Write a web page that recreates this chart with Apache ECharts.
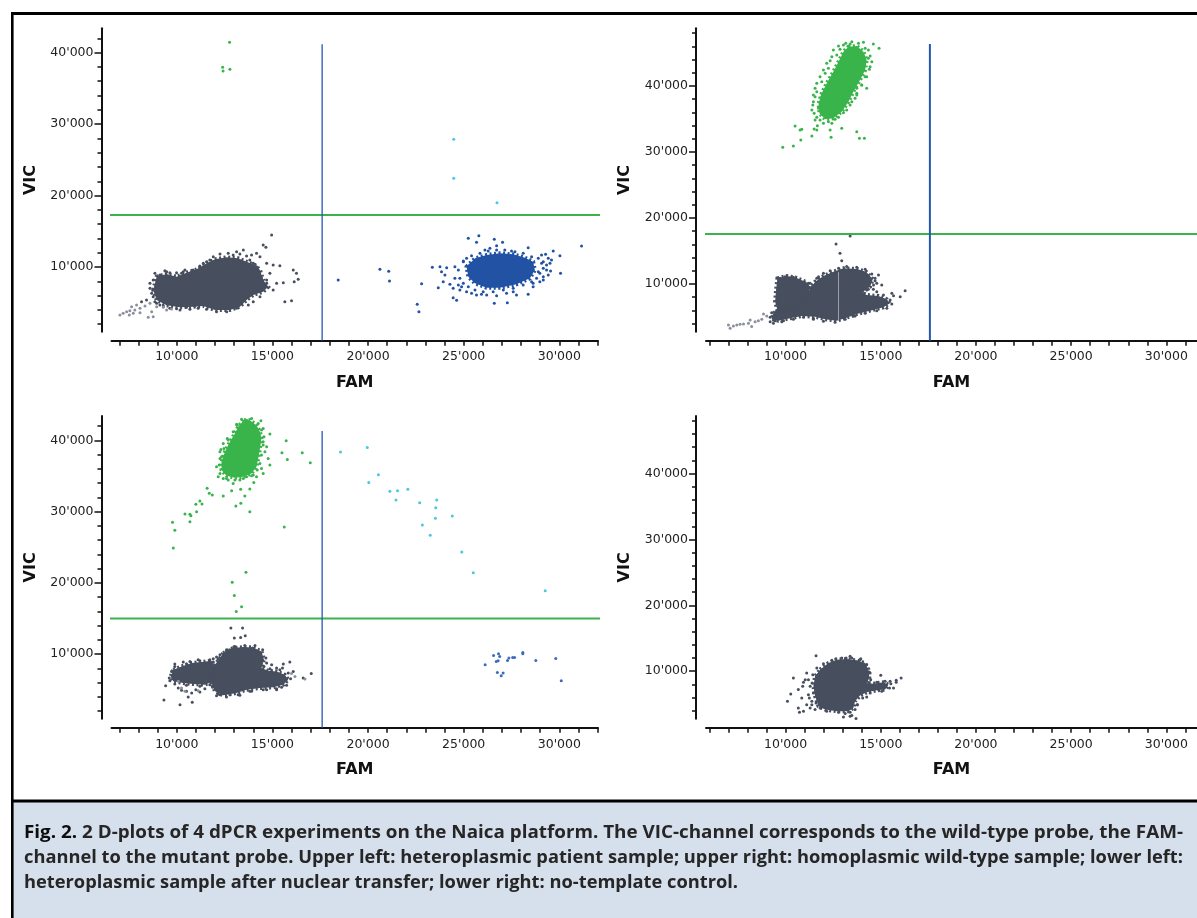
<!DOCTYPE html>
<html>
<head>
<meta charset="utf-8">
<script src="https://cdn.jsdelivr.net/npm/echarts@6/dist/echarts.min.js"></script>
<style>
  html, body { margin: 0; padding: 0; background: #fff; }
  #chart { width: 1197px; height: 918px; }
</style>
</head>
<body>
<div id="chart"></div>
<script>
// ---- data (FAM, VIC) ----

// upper left: heteroplasmic patient sample
var p1DarkCore = [[8770,6780],[8950,8640],[9470,9020],[9990,8640],[10510,9200],[11040,9670],[11560,10510],[12000,11070],[12610,11350],[13210,11210],[13650,10740],[14090,10280],[14350,9580],[14520,8180],[14780,7240],[14520,6540],[14000,6080],[13650,5380],[13300,4440],[12780,3980],[12000,3980],[11390,4540],[10860,4440],[10170,4350],[9470,4630],[8950,5380]];
var p1Dark = [[14960,14480],[14520,13080],[14660,12750],[14170,11910],[13910,11680],[13480,12380],[13130,12140],[13650,11540],[14350,11440],[14700,10510],[15040,10280],[15390,10180],[14870,9110],[15220,7710],[15570,7800],[14700,7710],[15040,6780],[14350,5840],[16090,9580],[16260,9110],[16350,8270],[16140,7940],[15650,5140],[16000,5280],[14000,5140],[13740,4680],[10860,9580],[10340,9340],[9990,9200],[9470,9340],[9120,8880],[11210,10140],[11560,10740],[8600,7710],[8690,6310],[8860,5140],[9120,4680],[9640,4210],[10170,3980],[10690,4070],[8160,5140],[8420,5380]];
var p1DarkHalo = [[11910,11440],[12260,11820],[12690,11910],[12950,11680],[13300,11820],[11730,10980],[11390,10510],[11210,9950],[13820,10980],[14000,10510],[14170,10040],[13910,9580],[14260,8880],[14430,8410],[14700,8180],[14170,7240],[14350,6780],[14090,6540],[13820,6080],[13560,5610],[13390,4910],[13130,4210],[12610,3740],[12080,3740],[11560,4070],[11120,4210],[10950,4540],[10510,4350],[9990,4160],[9300,4540],[8950,4910],[8770,5840],[8600,7010],[8770,8180],[9030,8640],[9640,9200],[10250,9110],[10780,9340],[8860,9110],[9380,9480],[10430,9580]];
var p1Tail = [[7030,3280],[7200,3510],[7380,3740],[7550,3880],[7640,4440],[7810,3980],[7900,4680],[8080,4210],[8340,4540],[8600,4910],[8690,3740],[8770,3040],[8510,2950],[8950,4440],[9300,4350],[9470,3980],[9730,4120],[8080,3600],[7730,3510],[7520,3280]];
var p1Green = [[12760,41450],[12400,37950],[12420,37440],[12780,37670]];
var p1Cyan = [[24480,27870],[24480,22410],[26740,19000]];
var p1BlueCore = [[25150,10040],[25590,11210],[26200,11680],[26890,11910],[27590,11770],[28200,11300],[28630,10740],[28720,9580],[28460,8410],[27760,7570],[26890,7100],[26200,7100],[25590,7710],[25240,8640]];
var p1Blue = [[18440,8180],[20620,9670],[21080,9390],[21120,8040],[25240,14010],[25790,14380],[25670,13450],[26600,13870],[27030,13450],[26720,12980],[26370,12610],[26110,12380],[27500,12240],[28370,12700],[29070,11680],[29280,11770],[29680,12240],[30030,11580],[29420,11210],[29590,10980],[29160,10740],[28900,9340],[29330,9580],[29540,9440],[28980,7940],[28630,7710],[28370,6170],[27760,6080],[27590,6540],[27240,6310],[26720,5980],[26600,4910],[27280,5000],[26200,6080],[25930,6170],[25670,6080],[25410,6310],[25150,6540],[24800,6780],[24720,7480],[24540,8410],[24450,7010],[24280,7570],[24020,8880],[23930,7940],[23840,9340],[24110,9900],[23760,10040],[23360,9950],[22800,7660],[23670,7100],[24450,5700],[24630,5330],[22570,4770],[22660,3740],[31160,12940],[30060,9110],[25320,10280],[24980,10840],[29160,8640]];
var p1BlueHalo = [[24980,10740],[25150,11210],[25410,11580],[25850,11910],[26280,12240],[26720,12380],[27150,12380],[27680,12140],[28110,11910],[28550,11440],[28900,11210],[29070,10510],[29160,9810],[28980,9110],[28810,8410],[28550,7940],[28110,7480],[27590,7010],[27070,6780],[26540,6540],[26020,6540],[25590,6780],[25240,7240],[24980,7710],[24800,8410],[24720,9580],[24540,10040],[24890,7240],[28630,7240],[29160,8180],[29330,10280],[29510,10510],[29420,8880]];

// upper right: homoplasmic wild-type sample
var p2GreenCore = [[13300,45960],[13740,46060],[14090,45200],[14260,43940],[14180,42420],[13910,40910],[13560,39140],[13300,37620],[12950,36110],[12510,35100],[12080,34950],[11780,35860],[11730,37370],[11900,38890],[12160,40400],[12510,42170],[12780,43680],[13040,45200]];
var p2Green = [[12780,46060],[13160,46460],[13390,46360],[14090,46610],[14610,46360],[14910,45700],[14350,45450],[14440,44540],[14530,43680],[14400,42520],[14180,41410],[14000,40150],[13740,39640],[13650,38130],[13740,38630],[13390,37120],[13040,35960],[12340,43830],[12250,42670],[12080,41920],[11900,40650],[11640,39140],[11550,38380],[11460,37620],[11380,36360],[11550,34850],[11810,34850],[12430,34340],[12600,34950],[11670,33990],[11500,33480],[10850,33430],[10760,33330],[10500,33940],[11640,33330],[12340,33330],[12390,32220],[12950,33580],[13740,33080],[13880,32070],[14140,32070],[9850,30700],[10410,30910],[10800,31820],[11380,32420],[12250,39390],[14260,39640]];
var p2GreenHalo = [[12510,45450],[12430,44440],[12160,43430],[11990,42420],[11810,41410],[11640,40400],[11550,39640],[11460,38630],[11430,37120],[11500,35860],[11640,35250],[11990,34340],[12250,34590],[12780,35250],[13210,36360],[13480,37620],[13740,38890],[14000,40150],[14260,41410],[14440,42930],[14350,44190],[14180,45700],[13830,46460],[13480,46710],[13040,46210],[12860,45550],[12690,44690],[11900,38380],[11730,36610],[13910,42420],[13740,44440]];
var p2DarkCore = [[9360,5560],[9710,6160],[10240,6460],[10760,7320],[11200,8840],[11550,10350],[11990,11210],[12510,11870],[13040,12370],[13740,12270],[14230,11870],[14580,10710],[14440,9600],[14000,8690],[14260,8330],[14880,8180],[15320,7680],[15460,7070],[15140,6460],[14440,5960],[13740,5450],[13210,4900],[12690,4440],[12080,4650],[11550,5050],[10850,5150],[10240,4800],[9620,4440],[9270,4650]];
var p2DarkLobe = [[9570,10860],[10060,11210],[10500,11010],[11030,10350],[11290,9600],[11200,8080],[10940,7320],[10590,6460],[10060,6060],[9570,6060],[9450,7320],[9500,9090]];
var p2Dark = [[9710,10860],[9970,11110],[10240,10860],[10410,11010],[11030,10200],[9620,9340],[9620,7580],[9570,6820],[11030,9600],[11200,10100],[11640,10860],[11550,9850],[12650,16060],[12860,14650],[12950,13530],[13390,17270],[14880,11360],[14790,10100],[15050,9850],[15580,8590],[15670,8230],[16020,8080],[16280,8990],[14260,9090],[14610,9190],[14700,10500],[11460,4800],[13560,5150],[9360,5150],[9190,4290],[9360,4040],[9800,4290]];
var p2DarkHalo = [[11990,11620],[12340,12020],[12780,12370],[13210,12630],[13740,12520],[14180,12220],[14530,11510],[14700,10860],[14620,9850],[14350,9190],[14790,8840],[15140,8330],[15490,7580],[15580,6970],[15320,6310],[14790,5960],[14180,5560],[13650,5150],[13130,4650],[12600,4190],[11990,4340],[11460,4650],[10940,4950],[10410,4650],[9890,4440],[9450,4440],[9190,4950],[9270,5660],[11730,11110],[11290,10100],[10850,8590],[10680,7830],[10240,6820],[9800,6310],[9500,5810]];
var p2Tail = [[5770,3130],[7000,3790],[7090,3280],[7260,3640],[7440,3790],[7610,3890],[7790,3940],[8050,4040],[8140,4550],[8220,3540],[8400,4290],[8570,4440],[8750,4650],[8840,5450],[9010,5150]];
var p2Streak = [[12780,11800],[12780,4550]];

// lower left: heteroplasmic sample after nuclear transfer
var p3GreenCore = [[13510,42830],[13820,42830],[14170,42130],[14350,41190],[14430,40260],[14350,38860],[14260,37460],[14170,36290],[13910,35360],[13480,34890],[13040,34750],[12600,35030],[12340,35830],[12340,36990],[12520,38390],[12780,39790],[13040,40960],[13210,41890]];
var p3Green = [[13130,42270],[13650,42830],[14400,42730],[14000,41890],[14520,41660],[14870,40870],[14520,39790],[14700,39090],[14610,38390],[14780,37460],[14870,36530],[14430,36060],[14520,35360],[14000,35130],[13650,34890],[13300,34430],[12950,33960],[12690,34430],[12430,34660],[12170,34890],[12080,36290],[12260,37460],[12310,38720],[12430,39560],[12640,40260],[12690,38860],[14030,34100],[13820,33170],[13560,32190],[13340,33120],[12870,32930],[12430,32190],[13090,30790],[13350,31160],[13820,29990],[11590,33260],[11700,32560],[11860,32330],[11210,31490],[11000,31020],[11320,31070],[11040,29990],[10690,29620],[10740,29430],[10430,29670],[10690,28590],[9780,28500],[9900,27380],[9820,24910],[15620,27850],[15500,38250],[15780,37320],[15720,39930],[16560,38250],[16980,36850],[13620,21500],[12900,20100],[13010,18230],[13390,16650],[13110,15990]];
var p3GreenHalo = [[13390,42970],[13910,43060],[14260,42360],[14430,41430],[14560,40490],[14520,39330],[14430,37930],[14350,36760],[14210,35830],[13910,35030],[13480,34660],[13040,34430],[12600,34660],[12260,35360],[12220,36530],[12340,37690],[12470,38860],[12690,40030],[12950,41190],[13160,42130],[12260,38390],[12520,35590],[14170,34890]];
var p3Cyan = [[18560,38350],[19960,39000],[20040,34100],[20540,35170],[21140,32840],[21540,32930],[21460,31630],[22080,33120],[22700,31250],[23590,31630],[23540,30550],[23520,29060],[22840,28130],[23250,26680],[24400,29390],[24900,24350],[25500,21410],[29260,18890]];
var p3Blue = [[26120,8530],[26560,9830],[26820,10070],[26880,9690],[26700,8990],[26800,9090],[26760,7450],[26960,6990],[27060,7360],[27290,9130],[27360,9460],[27560,9550],[27660,9550],[28090,10250],[28090,10070],[28770,9130],[29810,9410],[30100,6290]];
var p3DarkCore = [[12430,10160],[12950,10860],[13480,11000],[14000,10950],[14430,10390],[14560,9220],[14430,8060],[14780,7680],[15220,7590],[15650,7120],[15830,6420],[15570,5720],[15040,5350],[14350,5260],[13650,5020],[13130,4560],[12430,4230],[12000,4790],[11820,5960],[11730,7360],[12000,8520],[12260,9460]];
var p3DarkLobe = [[9820,7820],[10250,8290],[10780,8760],[11300,8900],[11820,9080],[12000,8060],[11910,6190],[11470,5720],[10860,5820],[10340,5960],[9820,6190],[9680,6890]];
var p3Dark = [[12830,13660],[13440,13660],[13010,12260],[13340,12350],[13580,12580],[12990,11040],[13960,10860],[9900,8620],[10340,8900],[10690,8990],[11120,9220],[11730,9220],[12170,9360],[11390,8620],[9640,6280],[9420,5580],[10080,5260],[10250,4930],[10510,4790],[10780,4560],[11000,5020],[11210,4700],[11470,5160],[9330,3580],[10170,2920],[10600,4000],[10810,3250],[15570,8620],[15910,8900],[15530,8060],[15220,8060],[14960,7590],[16090,7590],[16610,6660],[17030,7310],[15480,5350],[15220,5020],[14700,5020],[13910,4790],[13300,4230],[12780,4320],[12260,4320],[12080,4180],[14960,8520],[14700,8760],[12260,9920],[12600,10390],[12780,10620]];
var p3DarkHalo = [[12600,10620],[13040,11090],[13560,11230],[14090,11230],[14490,10620],[14660,9460],[14560,8290],[14870,7960],[15390,7820],[15830,7360],[15950,6560],[15740,5630],[15220,5160],[14520,5020],[13820,4790],[13210,4320],[12600,4000],[12170,4420],[11870,5350],[11700,6660],[11650,7820],[11910,8900],[12080,9600],[9900,8290],[10510,8620],[11210,9080],[11910,9360],[9730,7590],[9610,6660],[9900,5820],[10510,5630],[11210,5490],[11730,5720]];
var p3Light = [[10080,6190],[10250,5260],[10430,4790],[11120,4880],[16000,7310],[16180,6890],[16700,6520]];

// lower right: no-template control
var p4DarkCore = [[11810,10230],[12250,11240],[12690,11740],[13210,11840],[13740,11640],[14180,11240],[14350,10230],[14400,8960],[14260,8210],[14610,8110],[15140,8310],[15400,7950],[15230,7200],[14790,7100],[14260,6790],[13910,6290],[13650,5430],[13560,4420],[13300,3910],[12690,3910],[12080,4170],[11730,4670],[11550,6190],[11460,7700],[11550,9220]];
var p4Dark = [[11600,12350],[12640,11890],[13180,11990],[13390,12250],[13950,11890],[14140,10980],[14390,9870],[13830,11340],[15000,9370],[15490,8460],[15810,8610],[16070,8960],[15810,8310],[15670,7450],[14960,7800],[14880,7200],[14530,7600],[14260,6090],[13770,4920],[13700,2800],[13390,3160],[13130,3560],[13040,3060],[13480,3260],[11110,9720],[11030,8710],[10410,8960],[10270,6540],[10100,5430],[10670,7200],[10850,5930],[10670,4420],[10940,3910],[10730,3760],[11290,4420],[11110,4920],[11380,5430],[11200,6440],[10900,7700],[10940,8310]];
var p4DarkHalo = [[11640,10480],[11990,11140],[12430,11640],[12950,11990],[13480,11990],[13910,11740],[14260,10980],[14440,9720],[14470,8710],[14790,8310],[15230,8460],[15530,8110],[15460,7450],[15050,6940],[14440,6690],[14050,5930],[13770,4920],[13650,4170],[13390,3760],[12780,3760],[12160,3910],[11810,4420],[11600,5180],[11460,6690],[11390,8210],[11430,9470],[11290,7700],[11250,5930],[11200,8710],[11380,4920],[11550,4170]];

// cluster thresholds per panel (FAM cut, top of FAM line, VIC cut); lower right has none
var famCut = [17600, 17580, 17600];
var famTop = [41190, 46360, 41290];
var vicCut = [17270, 17580, 15000];

// axis extents and tick labels
var xRange = [[6590, 32020], [5820, 31610], [6590, 32020], [5820, 31610]];
var yRange = [[940, 43410], [2770, 48740], [940, 43410], [2770, 48740]];
var xLabels = [10000, 15000, 20000, 25000, 30000];
var yLabels = [10000, 20000, 30000, 40000];

// ---- layout ----
var boxes = [
  {left: 111.5, top: 28.3, width: 486.5, height: 303.4},
  {left: 706, top: 28.3, width: 491, height: 303.4},
  {left: 111.5, top: 416, width: 486.5, height: 302.8},
  {left: 706, top: 416, width: 491, height: 302.8}
];
var AX_FONT = 'DejaVu Sans, Verdana, sans-serif';
var DARK = '#474e5e', LIGHT = '#8b909c', GREEN = '#39b44a', BLUE = '#2152a3',
    CYAN = '#48c8e4', BLUE2 = '#3b6bbf', LINE_BLUE = '#2457ad', LINE_GREEN = '#3bb34a';

function fmt(v) {
  return String(v).replace(/\B(?=(\d{3})+(?!\d))/g, "'");
}
function stepVals(from, to, step) {
  var out = [];
  for (var v = from; v <= to; v += step) out.push(v);
  return out;
}
function inside(vals, r) {
  return vals.filter(function (v) { return v >= r[0] && v <= r[1]; });
}

var grids = [], xAxes = [], yAxes = [], series = [];

boxes.forEach(function (b, i) {
  grids.push({left: b.left, top: b.top, width: b.width, height: b.height});
  xAxes.push({
    type: 'value', gridIndex: i, position: 'bottom', offset: 9,
    min: xRange[i][0], max: xRange[i][1],
    name: 'FAM', nameLocation: 'middle', nameGap: 34,
    nameTextStyle: {fontFamily: AX_FONT, fontWeight: 'bold', fontSize: 16, color: '#111'},
    axisLine: {show: true, onZero: false, lineStyle: {color: '#111', width: 2}},
    axisTick: {show: true, length: 5, customValues: inside(stepVals(6000, 32000, 1000), xRange[i]),
               lineStyle: {color: '#111', width: 1.5}},
    axisLabel: {customValues: xLabels, formatter: fmt, margin: 10, color: '#222',
                fontSize: 12.5, fontFamily: AX_FONT},
    splitLine: {show: false}
  });
  // main y axis: line, labels, long ticks
  yAxes.push({
    type: 'value', gridIndex: i, position: 'left', offset: 10,
    min: yRange[i][0], max: yRange[i][1],
    name: 'VIC', nameLocation: 'middle', nameGap: 63,
    nameTextStyle: {fontFamily: AX_FONT, fontWeight: 'bold', fontSize: 16, color: '#111'},
    axisLine: {show: true, onZero: false, lineStyle: {color: '#111', width: 2}},
    axisTick: {show: true, length: 7, customValues: yLabels, lineStyle: {color: '#111', width: 1.5}},
    axisLabel: {customValues: yLabels, formatter: fmt, margin: 8, color: '#222',
                fontSize: 12.5, fontFamily: AX_FONT},
    splitLine: {show: false}
  });
  // minor ticks every 2000
  yAxes.push({
    type: 'value', gridIndex: i, position: 'left', offset: 10,
    min: yRange[i][0], max: yRange[i][1],
    axisLine: {show: false},
    axisTick: {show: true, length: 4, customValues: inside(stepVals(2000, 48000, 2000), yRange[i]),
               lineStyle: {color: '#111', width: 1.5}},
    axisLabel: {show: false},
    splitLine: {show: false}
  });
});

// dense droplet cloud: filled outline with a broken, speckled rim
function blob(i, pts, color) {
  return {
    type: 'custom', xAxisIndex: i, yAxisIndex: 2 * i, data: [pts[0]],
    silent: true, animation: false,
    renderItem: function (params, api) {
      return {
        type: 'polygon',
        shape: {points: pts.map(function (p) { return api.coord(p); })},
        style: {fill: color, stroke: color, lineWidth: 4, lineDash: [2, 2.5]}
      };
    }
  };
}
function dots(i, pts, color) {
  return {
    type: 'scatter', xAxisIndex: i, yAxisIndex: 2 * i, data: pts,
    symbolSize: 3, itemStyle: {color: color, opacity: 1},
    silent: true, animation: false
  };
}
function rule(i, pts, color, width) {
  return {
    type: 'line', xAxisIndex: i, yAxisIndex: 2 * i, data: pts,
    symbol: 'none', clip: false, silent: true, animation: false,
    lineStyle: {color: color, width: width}
  };
}

series.push(
  blob(0, p1DarkCore, DARK), dots(0, p1Dark.concat(p1DarkHalo), DARK), dots(0, p1Tail, LIGHT),
  dots(0, p1Green, GREEN), dots(0, p1Cyan, CYAN),
  blob(0, p1BlueCore, BLUE), dots(0, p1Blue.concat(p1BlueHalo), BLUE),

  blob(1, p2GreenCore, GREEN), dots(1, p2Green.concat(p2GreenHalo), GREEN),
  blob(1, p2DarkCore, DARK), blob(1, p2DarkLobe, DARK), dots(1, p2Dark.concat(p2DarkHalo), DARK),
  dots(1, p2Tail, LIGHT), rule(1, p2Streak, '#9aa0ab', 1),

  blob(2, p3GreenCore, GREEN), dots(2, p3Green.concat(p3GreenHalo), GREEN),
  dots(2, p3Cyan, CYAN), dots(2, p3Blue, BLUE2),
  blob(2, p3DarkCore, DARK), blob(2, p3DarkLobe, DARK), dots(2, p3Dark.concat(p3DarkHalo), DARK),
  dots(2, p3Light, LIGHT),

  blob(3, p4DarkCore, DARK), dots(3, p4Dark.concat(p4DarkHalo), DARK)
);

// threshold lines: vertical FAM cut down to the x axis line, horizontal VIC cut from the y axis line
famCut.forEach(function (fc, i) {
  var b = boxes[i], xr = xRange[i], yr = yRange[i];
  var perPxY = (yr[1] - yr[0]) / b.height, perPxX = (xr[1] - xr[0]) / b.width;
  var yBottom = yr[0] - 9 * perPxY;
  var xStart = xr[0] - 10 * perPxX;
  var xEnd = xr[1] + (i % 2 === 0 ? 6 * perPxX : 0);
  series.push(rule(i, [[xStart, vicCut[i]], [xEnd, vicCut[i]]], LINE_GREEN, 2));
  series.push(rule(i, [[fc, famTop[i]], [fc, yBottom]], LINE_BLUE, i === 1 ? 2 : 1.3));
});

// ---- caption ----
var CAP_FONT = '"Open Sans", "Liberation Sans", sans-serif';
var CAP_SIZE = 18;
var capBold = 'Fig. 2.';
var capLines = [
  ' 2 D-plots of 4 dPCR experiments on the Naica platform. The VIC-channel corresponds to the wild-type probe, the FAM-',
  'channel to the mutant probe. Upper left: heteroplasmic patient sample; upper right: homoplasmic wild-type sample; lower left:',
  'heteroplasmic sample after nuclear transfer; lower right: no-template control.'
];
var mctx = document.createElement('canvas').getContext('2d');
function textWidth(s, weight) {
  mctx.font = weight + ' ' + CAP_SIZE + 'px ' + CAP_FONT;
  return mctx.measureText(s).width;
}
var capWidth = 1159;
var s1 = capWidth / (textWidth(capBold, 'bold') + textWidth(capLines[0], 'bold'));
var s2 = capWidth / textWidth(capLines[1], 'bold');
var capScale = [s1, s2, s2];
var capY = [833, 858, 883];

var graphics = [
  {type: 'rect', silent: true, shape: {x: 13, y: 802, width: 1190, height: 120}, style: {fill: '#d6dfec'}},
  {type: 'line', silent: true, shape: {x1: 11, y1: 13.5, x2: 1197, y2: 13.5}, style: {stroke: '#000', lineWidth: 3}},
  {type: 'line', silent: true, shape: {x1: 12.3, y1: 12, x2: 12.3, y2: 918}, style: {stroke: '#000', lineWidth: 2.6}},
  {type: 'line', silent: true, shape: {x1: 11, y1: 801, x2: 1197, y2: 801}, style: {stroke: '#000', lineWidth: 3}}
];
capLines.forEach(function (line, k) {
  graphics.push({
    type: 'text', silent: true, x: 24, y: capY[k], scaleX: capScale[k], originX: 0, originY: 0,
    style: {
      text: (k === 0 ? '{b|' + capBold + '}' : '') + line,
      rich: {b: {fontFamily: CAP_FONT, fontSize: CAP_SIZE, fontWeight: 'bold', fill: '#0d0d0d'}},
      fontFamily: CAP_FONT, fontSize: CAP_SIZE, fontWeight: 'bold', fill: '#262626',
      verticalAlign: 'middle'
    }
  });
});

var chart = echarts.init(document.getElementById('chart'));
chart.setOption({
  animation: false,
  backgroundColor: '#fff',
  grid: grids,
  xAxis: xAxes,
  yAxis: yAxes,
  series: series,
  graphic: graphics
});
</script>
</body>
</html>
